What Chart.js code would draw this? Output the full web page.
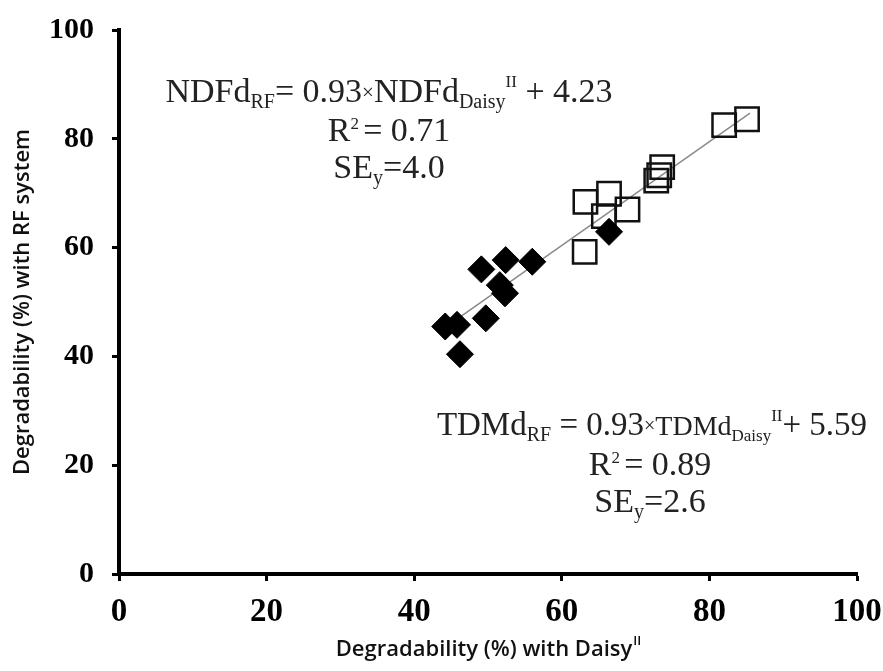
<!DOCTYPE html>
<html>
<head>
<meta charset="utf-8">
<title>Degradability RF vs Daisy</title>
<script src="https://cdn.jsdelivr.net/npm/chart.js@4.4.1/dist/chart.umd.min.js"></script>
<style>
  body { margin: 0; background: #fff; }
  #wrap { width: 883px; height: 671px; }
</style>
</head>
<body>
<div id="wrap"><canvas id="chart" width="883" height="671"></canvas></div>
<script>
// NDFd points (filled diamonds)
var ndfX = [49.1, 52.4, 56.0, 51.6, 52.3, 49.7, 44.2, 45.8, 46.2, 66.4];
var ndfY = [56.0, 57.7, 57.4, 53.1, 51.6, 47.0, 45.5, 45.8, 40.4, 62.9];

// TDMd points (open squares)
var tdmX = [82.0, 85.1, 73.6, 73.2, 72.8, 63.2, 66.4, 68.9, 65.7, 63.1];
var tdmY = [82.5, 83.6, 74.8, 73.3, 72.3, 68.4, 69.9, 67.0, 65.8, 59.2];

// fitted line ends
var fitX = [44.5, 85.5];
var fitY = [45.6, 84.7];

var axisMin = 0, axisMax = 100, axisStep = 20;

function toPoints(xs, ys) {
  return xs.map(function (x, i) { return { x: x, y: ys[i] }; });
}

// text pieces: [text, font px, baseline shift]
function drawRich(ctx, parts, cx, y) {
  var w = 0;
  parts.forEach(function (p) {
    ctx.font = p[1] + 'px "Liberation Serif"';
    w += ctx.measureText(p[0]).width;
  });
  var x = cx - w / 2;
  parts.forEach(function (p) {
    ctx.font = p[1] + 'px "Liberation Serif"';
    ctx.fillText(p[0], x, y + p[2]);
    x += ctx.measureText(p[0]).width;
  });
}

var notes = {
  id: 'notes',
  afterDraw: function (chart) {
    var ctx = chart.ctx;
    ctx.save();
    ctx.fillStyle = '#222';
    ctx.textAlign = 'left';
    ctx.textBaseline = 'alphabetic';

    drawRich(ctx, [['NDFd', 34, 0], ['RF', 20, 6], ['= 0.93', 34, 0], ['\u00d7', 21, -3],
      ['NDFd', 34, 0], ['Daisy', 20, 6], ['II', 17, -15], [' + 4.23', 34, 0]], 389, 102);
    drawRich(ctx, [['R', 34, 0], ['2 ', 17, -12], ['= 0.71', 34, 0]], 389, 141);
    drawRich(ctx, [['SE', 34, 0], ['y', 20, 6], ['=4.0', 34, 0]], 389, 178);

    drawRich(ctx, [['TDMd', 33, 0], ['RF', 20, 6], [' = 0.93', 33, 0], ['\u00d7', 20, -3],
      ['TDMd', 28, 0], ['Daisy', 17, 6], ['II', 17, -14], ['+ 5.59', 33, 0]], 652, 435);
    drawRich(ctx, [['R', 34, 0], ['2 ', 17, -12], ['= 0.89', 34, 0]], 650, 475);
    drawRich(ctx, [['SE', 34, 0], ['y', 20, 6], ['=2.6', 34, 0]], 650, 512);

    // axis titles
    ctx.fillStyle = '#111';
    var a = chart.chartArea;
    ctx.font = '600 22px "Open Sans"';
    var t1 = 'Degradability (%) with Daisy';
    var w1 = ctx.measureText(t1).width;
    ctx.font = '600 13px "Open Sans"';
    var w2 = ctx.measureText('II').width;
    var x0 = (a.left + a.right) / 2 - (w1 + w2) / 2;
    ctx.font = '600 22px "Open Sans"';
    ctx.fillText(t1, x0, 656);
    ctx.font = '600 13px "Open Sans"';
    ctx.fillText('II', x0 + w1 + 1, 645);

    ctx.translate(23, (a.top + a.bottom) / 2);
    ctx.rotate(-Math.PI / 2);
    ctx.font = '600 22px "Open Sans"';
    ctx.textAlign = 'center';
    ctx.textBaseline = 'middle';
    ctx.fillText('Degradability (%) with RF system', 0, 0);
    ctx.restore();
  }
};

new Chart(document.getElementById('chart'), {
  type: 'scatter',
  data: {
    datasets: [
      {
        label: 'NDFd',
        data: toPoints(ndfX, ndfY),
        pointStyle: 'rectRot',
        pointRadius: 13.5,
        backgroundColor: '#000',
        borderColor: '#000',
        borderWidth: 1,
        order: 1
      },
      {
        label: 'TDMd',
        data: toPoints(tdmX, tdmY),
        pointStyle: 'rect',
        pointRadius: 16.5,
        backgroundColor: 'rgba(0,0,0,0)',
        borderColor: '#111',
        borderWidth: 2.5,
        order: 2
      },
      {
        label: 'fit',
        data: toPoints(fitX, fitY),
        showLine: true,
        pointRadius: 0,
        borderColor: '#8a8a8a',
        borderWidth: 1.5,
        order: 3
      }
    ]
  },
  options: {
    responsive: false,
    animation: false,
    devicePixelRatio: 1,
    layout: { padding: { top: 30, right: 26, left: 0, bottom: 0 } },
    plugins: { legend: { display: false }, tooltip: { enabled: false } },
    scales: {
      x: {
        type: 'linear',
        min: axisMin,
        max: axisMax,
        ticks: {
          stepSize: axisStep,
          color: '#000',
          padding: 12,
          font: { family: '"Liberation Serif"', size: 33, weight: 'bold' }
        },
        grid: { drawOnChartArea: false, tickLength: 7, tickWidth: 3, tickColor: '#000' },
        border: { color: '#000', width: 4 },
        afterFit: function (s) {
          s.height = 97;
          s.paddingLeft = 0;
          s.paddingRight = 0;
        }
      },
      y: {
        type: 'linear',
        min: axisMin,
        max: axisMax,
        ticks: {
          stepSize: axisStep,
          color: '#000',
          padding: 18,
          font: { family: '"Liberation Serif"', size: 30, weight: 'bold' }
        },
        grid: { drawOnChartArea: false, tickLength: 7, tickWidth: 3, tickColor: '#000' },
        border: { color: '#000', width: 4 },
        afterFit: function (s) {
          s.width = 119;
          s.paddingTop = 0;
          s.paddingBottom = 0;
        }
      }
    }
  },
  plugins: [notes]
});
</script>
</body>
</html>
